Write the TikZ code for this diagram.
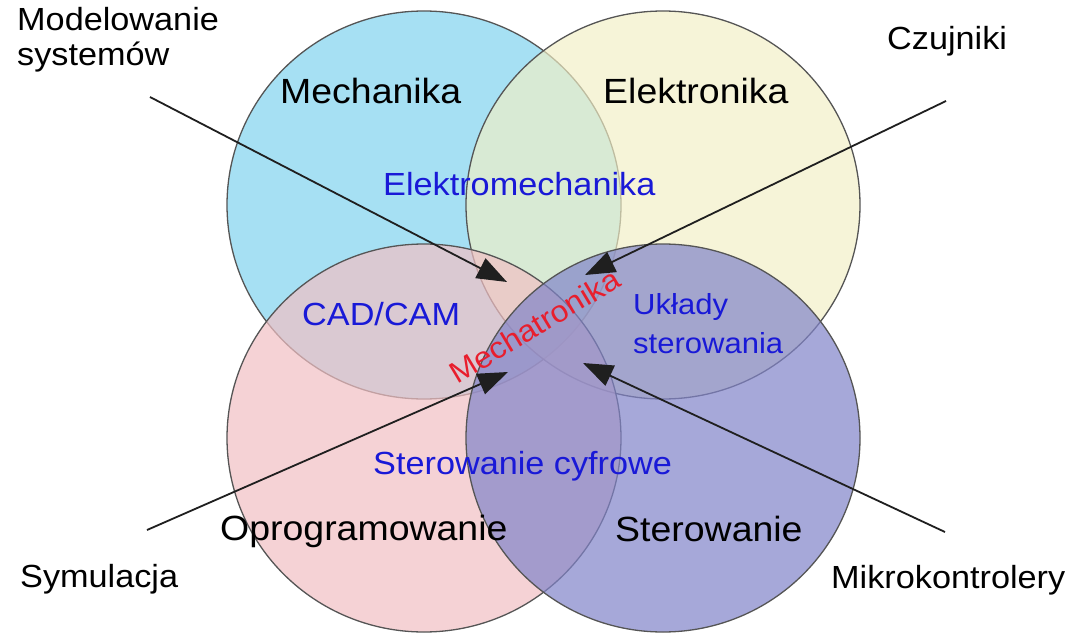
\documentclass[tikz,border=0pt]{standalone}
\usepackage{fontspec}
\setmainfont{Liberation Sans}[FakeStretch=1.07]
\usetikzlibrary{arrows.meta}

% fills of the four fields and of the text
\definecolor{mechfill}{RGB}{166,224,243}
\definecolor{elekfill}{RGB}{242,239,197}
\definecolor{progfill}{RGB}{241,192,196}
\definecolor{sterfill}{RGB}{129,132,201}
\definecolor{rimcol}{RGB}{85,85,85}
\definecolor{areablue}{RGB}{25,25,215}
\definecolor{corered}{RGB}{232,30,45}

\begin{document}
\begin{tikzpicture}[x=1pt,y=-1pt,
  field/.style={draw=rimcol, line width=1.3pt},
  mainlabel/.style={anchor=base west, inner sep=0pt, text=black,
    font=\fontsize{35}{40}\selectfont},
  arealabel/.style={anchor=base west, inner sep=0pt, text=areablue,
    font=\fontsize{32}{36}\selectfont},
  sidelabel/.style={anchor=base west, inner sep=0pt, text=black,
    font=\fontsize{32}{36}\selectfont},
  pointer/.style={line width=1.8pt, draw=black!88,
    -{Triangle[length=30pt,width=22pt]}}]
\useasboundingbox (0,0) rectangle (1071,634);
\fill[white] (0,0) rectangle (1071,634);

% the four overlapping fields
\path[field, fill=mechfill]
  (424,205) ellipse [x radius=197pt, y radius=194pt];
\path[field, fill=elekfill, fill opacity=0.67]
  (663,205) ellipse [x radius=197pt, y radius=194pt];
\path[field, fill=progfill, fill opacity=0.7]
  (424,438) ellipse [x radius=197pt, y radius=194pt];
\path[field, fill=sterfill, fill opacity=0.7]
  (663,438) ellipse [x radius=197pt, y radius=194pt];

% field names
\node[mainlabel] (mech) at (280,103) {Mechanika};
\node[mainlabel] (elek) at (603,103) {Elektronika};
\node[mainlabel] (prog) at (220,540) {Oprogramowanie};
\node[mainlabel] (ster) at (615,541) {Sterowanie};

% overlap names
\node[arealabel] (elme) at (383,195) {Elektromechanika};
\node[arealabel] (cad)  at (302,325) {CAD/CAM};
\node[arealabel, font=\fontsize{29}{33}\selectfont] (uk1) at (633,314) {Układy};
\node[arealabel, font=\fontsize{29}{33}\selectfont] (uk2) at (633,353) {sterowania};
\node[arealabel] (cyfr) at (373,474) {Sterowanie cyfrowe};

% centre
\node[anchor=base west, inner sep=0pt, text=corered, rotate=31,
  font=\fontsize{30}{34}\selectfont] (core) at (457,385) {Mechatronika};

% outer labels
\node[sidelabel] (mod1) at (17,31) {Modelowanie};
\node[sidelabel] (mod2) at (17,66) {systemów};
\node[sidelabel] (czuj) at (887,50) {Czujniki};
\node[sidelabel] (symu) at (20,587) {Symulacja};
\node[sidelabel] (mikr) at (831,588) {Mikrokontrolery};

% pointers towards the centre
\coordinate (modS) at (150,97);
\coordinate (modT) at (507,282);
\coordinate (czuS) at (946,101);
\coordinate (czuT) at (585,275);
\coordinate (symS) at (147,530);
\coordinate (symT) at (508,372);
\coordinate (mikS) at (945,532);
\coordinate (mikT) at (583,363);
\draw[pointer] (modS) -- (modT);
\draw[pointer] (czuS) -- (czuT);
\draw[pointer] (symS) -- (symT);
\draw[pointer] (mikS) -- (mikT);
\end{tikzpicture}
\end{document}
